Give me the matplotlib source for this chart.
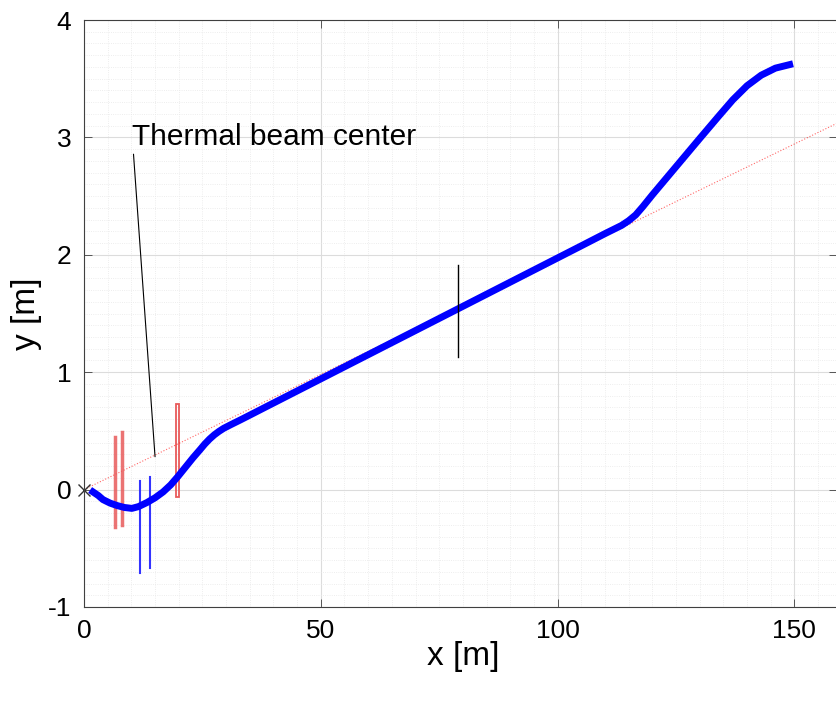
import matplotlib.pyplot as plt
from matplotlib.patches import Rectangle

plt.rcParams['font.family'] = ['Liberation Sans', 'DejaVu Sans']
plt.rcParams['axes.unicode_minus'] = False

# beam path (blue thick curve)
path_x = [1.9, 3.0, 4.0, 5.5, 7.0, 8.5, 10.1, 11.5, 13.3, 15.0, 16.7, 18.3, 19.8, 21.4,
          23.0, 24.5, 25.5, 26.5, 27.5, 28.5, 29.5, 31.0, 33.0, 35.0, 38.0, 41.4, 60.0, 80.0,
          104.6, 110.0, 112.0, 113.5, 115.0, 116.5, 118.0, 120.0, 125.0, 130.0, 134.0, 137.0,
          140.0, 143.0, 146.0, 149.0]
path_y = [-0.02, -0.05, -0.085, -0.115, -0.136, -0.152, -0.16, -0.145, -0.11, -0.07, -0.02,
          0.04, 0.11, 0.19, 0.27, 0.34, 0.388, 0.43, 0.466, 0.496, 0.522, 0.553, 0.593, 0.634,
          0.696, 0.766, 1.149, 1.561, 2.068, 2.18, 2.22, 2.25, 2.29, 2.34, 2.41, 2.51, 2.75,
          2.99, 3.18, 3.32, 3.44, 3.53, 3.59, 3.62]

# thermal beam center reference (red dotted)
ref_x = [0, 160]
ref_y = [0, 3.14]

# red elements: x, y bottom, y top
red_x = [6.5, 8.0]
red_y0 = [-0.32, -0.30]
red_y1 = [0.45, 0.49]
red_box = [19.8, -0.06, 0.73]   # x center, y bottom, y top

# blue elements
blue_x = [11.9, 13.9]
blue_y0 = [-0.71, -0.67]
blue_y1 = [0.07, 0.11]

# black marker line
black_x = 78.9
black_y = [1.13, 1.91]

fig = plt.figure(figsize=(8.37, 7.02), dpi=100)
ax = fig.add_axes([84/837, 95/702, 1 - 84/837, 587/702])

ax.set_xlim(0, 159)
ax.set_ylim(-1, 4)
ax.set_xticks([0, 50, 100, 150])
ax.set_yticks([-1, 0, 1, 2, 3, 4])
ax.set_xticks(range(0, 160, 5), minor=True)
ax.set_yticks([i / 10 for i in range(-10, 41)], minor=True)
ax.grid(which='major', color='#dcdcdc', linewidth=0.8)
ax.grid(which='minor', color='#e8e8e8', linewidth=0.6, linestyle=':')
ax.set_axisbelow(True)
ax.tick_params(which='major', direction='in', length=6, top=True, right=True,
               labelsize=19, color='#404040', width=0.6, pad=9)
ax.tick_params(which='minor', length=0)
for s in ax.spines.values():
    s.set_color('#404040')
    s.set_linewidth(0.8)

ax.plot(ref_x, ref_y, ':', color='red', linewidth=0.8, alpha=0.6)

for x, a, b in zip(red_x, red_y0, red_y1):
    ax.plot([x, x], [a, b], color='#e85a5a', linewidth=2.5, alpha=0.85)
ax.add_patch(Rectangle((red_box[0] - 0.3, red_box[1]), 0.6, red_box[2] - red_box[1],
                       fill=False, edgecolor='#e85a5a', linewidth=1.3))

for x, a, b in zip(blue_x, blue_y0, blue_y1):
    ax.plot([x, x], [a, b], color='#3333ff', linewidth=1.5)

ax.plot(path_x, path_y, color='#0000ff', linewidth=5, solid_joinstyle='round')

ax.plot([black_x, black_x], black_y, color='black', linewidth=1.0)

ax.plot([0], [0], 'x', color='#333333', markersize=8, markeredgewidth=1.0, clip_on=False)

ax.annotate('Thermal beam center', xy=(15, 0.28), xytext=(10.2, 3.0),
            fontsize=21.5, va='center', ha='left',
            arrowprops=dict(arrowstyle='-', color='black', linewidth=0.8,
                            shrinkA=0, shrinkB=0, relpos=(0, 0.5)))

ax.set_xlabel('x [m]', fontsize=24)
ax.set_ylabel('y [m]', fontsize=24)
ax.xaxis.label.set_va('center')
ax.yaxis.label.set_va('center')
ax.xaxis.set_label_coords(0.503, -0.085)
ax.yaxis.set_label_coords(-0.077, 0.5)

fig.savefig('out.png', dpi=100)
